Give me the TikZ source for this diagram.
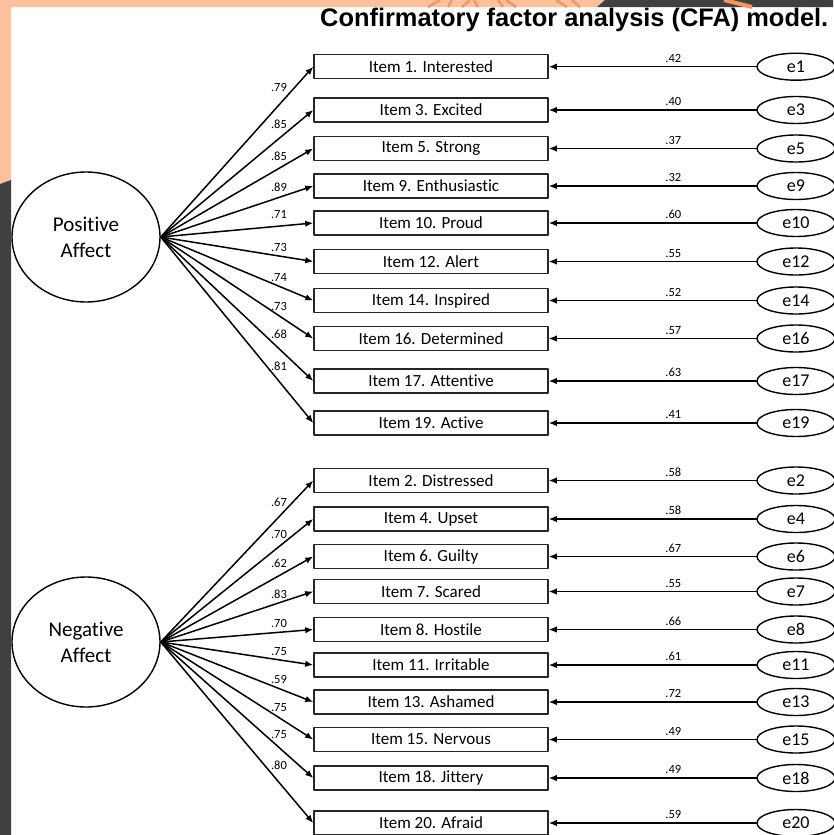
\documentclass[tikz,border=0pt]{standalone}
\usepackage{fontspec}
\setmainfont{Carlito}[Ligatures=NoCommon]
\newfontfamily\titlefont{Liberation Sans}
\usetikzlibrary{shapes.geometric,arrows.meta}

\definecolor{peach}{RGB}{255,192,158}
\definecolor{slate}{RGB}{64,64,64}
\definecolor{ray}{RGB}{246,150,92}

\tikzset{
  itembox/.style={draw=black!85, line width=1.5pt, minimum width=234pt,
    minimum height=24pt, inner sep=0pt, font=\fontsize{17}{20}\selectfont},
  factor/.style={ellipse, draw, line width=1.4pt, minimum width=148pt,
    minimum height=130pt, inner sep=0pt, align=center,
    font=\fontsize{21}{26}\selectfont},
  errnode/.style={ellipse, draw, line width=1.4pt, minimum width=78pt,
    minimum height=27pt, inner sep=0pt, font=\fontsize{18}{20}\selectfont},
  loadarrow/.style={-{Latex[length=8pt,width=6.5pt]}, line width=1.5pt},
  coef/.style={font=\fontsize{12.5}{14}\selectfont, inner sep=1pt}
}

\begin{document}
\begin{tikzpicture}[
  x=1pt,
  y=-1pt,
  line join=round,
  line cap=round
]

% ---------- page ----------
\useasboundingbox (0,0) rectangle (833,835);
\fill[white] (0,0) rectangle (833,835);
\fill[peach] (0,0) -- (605,0) -- (597,7) -- (11,7) -- (11,180) -- (0,184) -- cycle;
\fill[slate] (605,0) -- (833,0) -- (833,7) -- (597,7) -- cycle;
\fill[slate] (0,184) -- (11,180) -- (11,835) -- (0,835) -- cycle;
\foreach \a/\b in {428/440, 448/452, 462/470, 478/474, 503/498, 516/506, 567/556, 580/572}{
  \draw[ray, line width=2.5pt, line cap=butt] (\a,7) -- (\b,0);
}
\draw[ray, line width=4pt, line cap=butt] (724,0) -- (752,7);

% ---------- parameters ----------
\def\bx{431}     % item box centre
\def\ex{796}     % error ellipse centre
\def\lx{279}     % loading labels

% ---------- title ----------
\node[anchor=base west, inner sep=0pt,
  font=\titlefont\bfseries\fontsize{25.4}{30}\selectfont] (title) at (320,27)
  {Confirmatory factor analysis (CFA) model.};

% ---------- factors ----------
\node[factor] (pa) at (86,237) {Positive\\Affect};
\node[factor] (na) at (86,642) {Negative\\Affect};

% ---------- items, errors, loadings ----------
\foreach \f/\n/\y/\txt/\ld/\ly/\ev in {
  pa/1/66.7/Interested/79/87/42,
  pa/3/110/Excited/85/124/40,
  pa/5/148.5/Strong/85/156/37,
  pa/9/186/Enthusiastic/89/187/32,
  pa/10/223/Proud/71/215/60,
  pa/12/261.5/Alert/73/247/55,
  pa/14/300.5/Inspired/74/278/52,
  pa/16/338.5/Determined/73/306/57,
  pa/17/381/Attentive/68/334/63,
  pa/19/423/Active/81/366/41,
  na/2/480.5/Distressed/67/502/58,
  na/4/519/Upset/70/534/58,
  na/6/556.5/Guilty/62/563/67,
  na/7/591.5/Scared/83/594/55,
  na/8/629.5/Hostile/70/623/66,
  na/11/665/Irritable/75/652/61,
  na/13/702/Ashamed/59/679/72,
  na/15/739.5/Nervous/75/708/49,
  na/18/778/Jittery/75/735/49,
  na/20/823/Afraid/80/765/59
}{
  \node[itembox] (i\n) at (\bx,\y) {Item \n. \txt};
  \node[errnode] (e\n) at (\ex,\y) {e\n};
  \draw[loadarrow] (\f.east) -- (i\n.west);
  \node[coef] (l\n) at (\lx,\ly) {.\ld};
  \draw[loadarrow] (e\n.west) -- node[coef, pos=0.4, above=2.5pt] (r\n) {.\ev} (i\n.east);
}

\end{tikzpicture}
\end{document}
